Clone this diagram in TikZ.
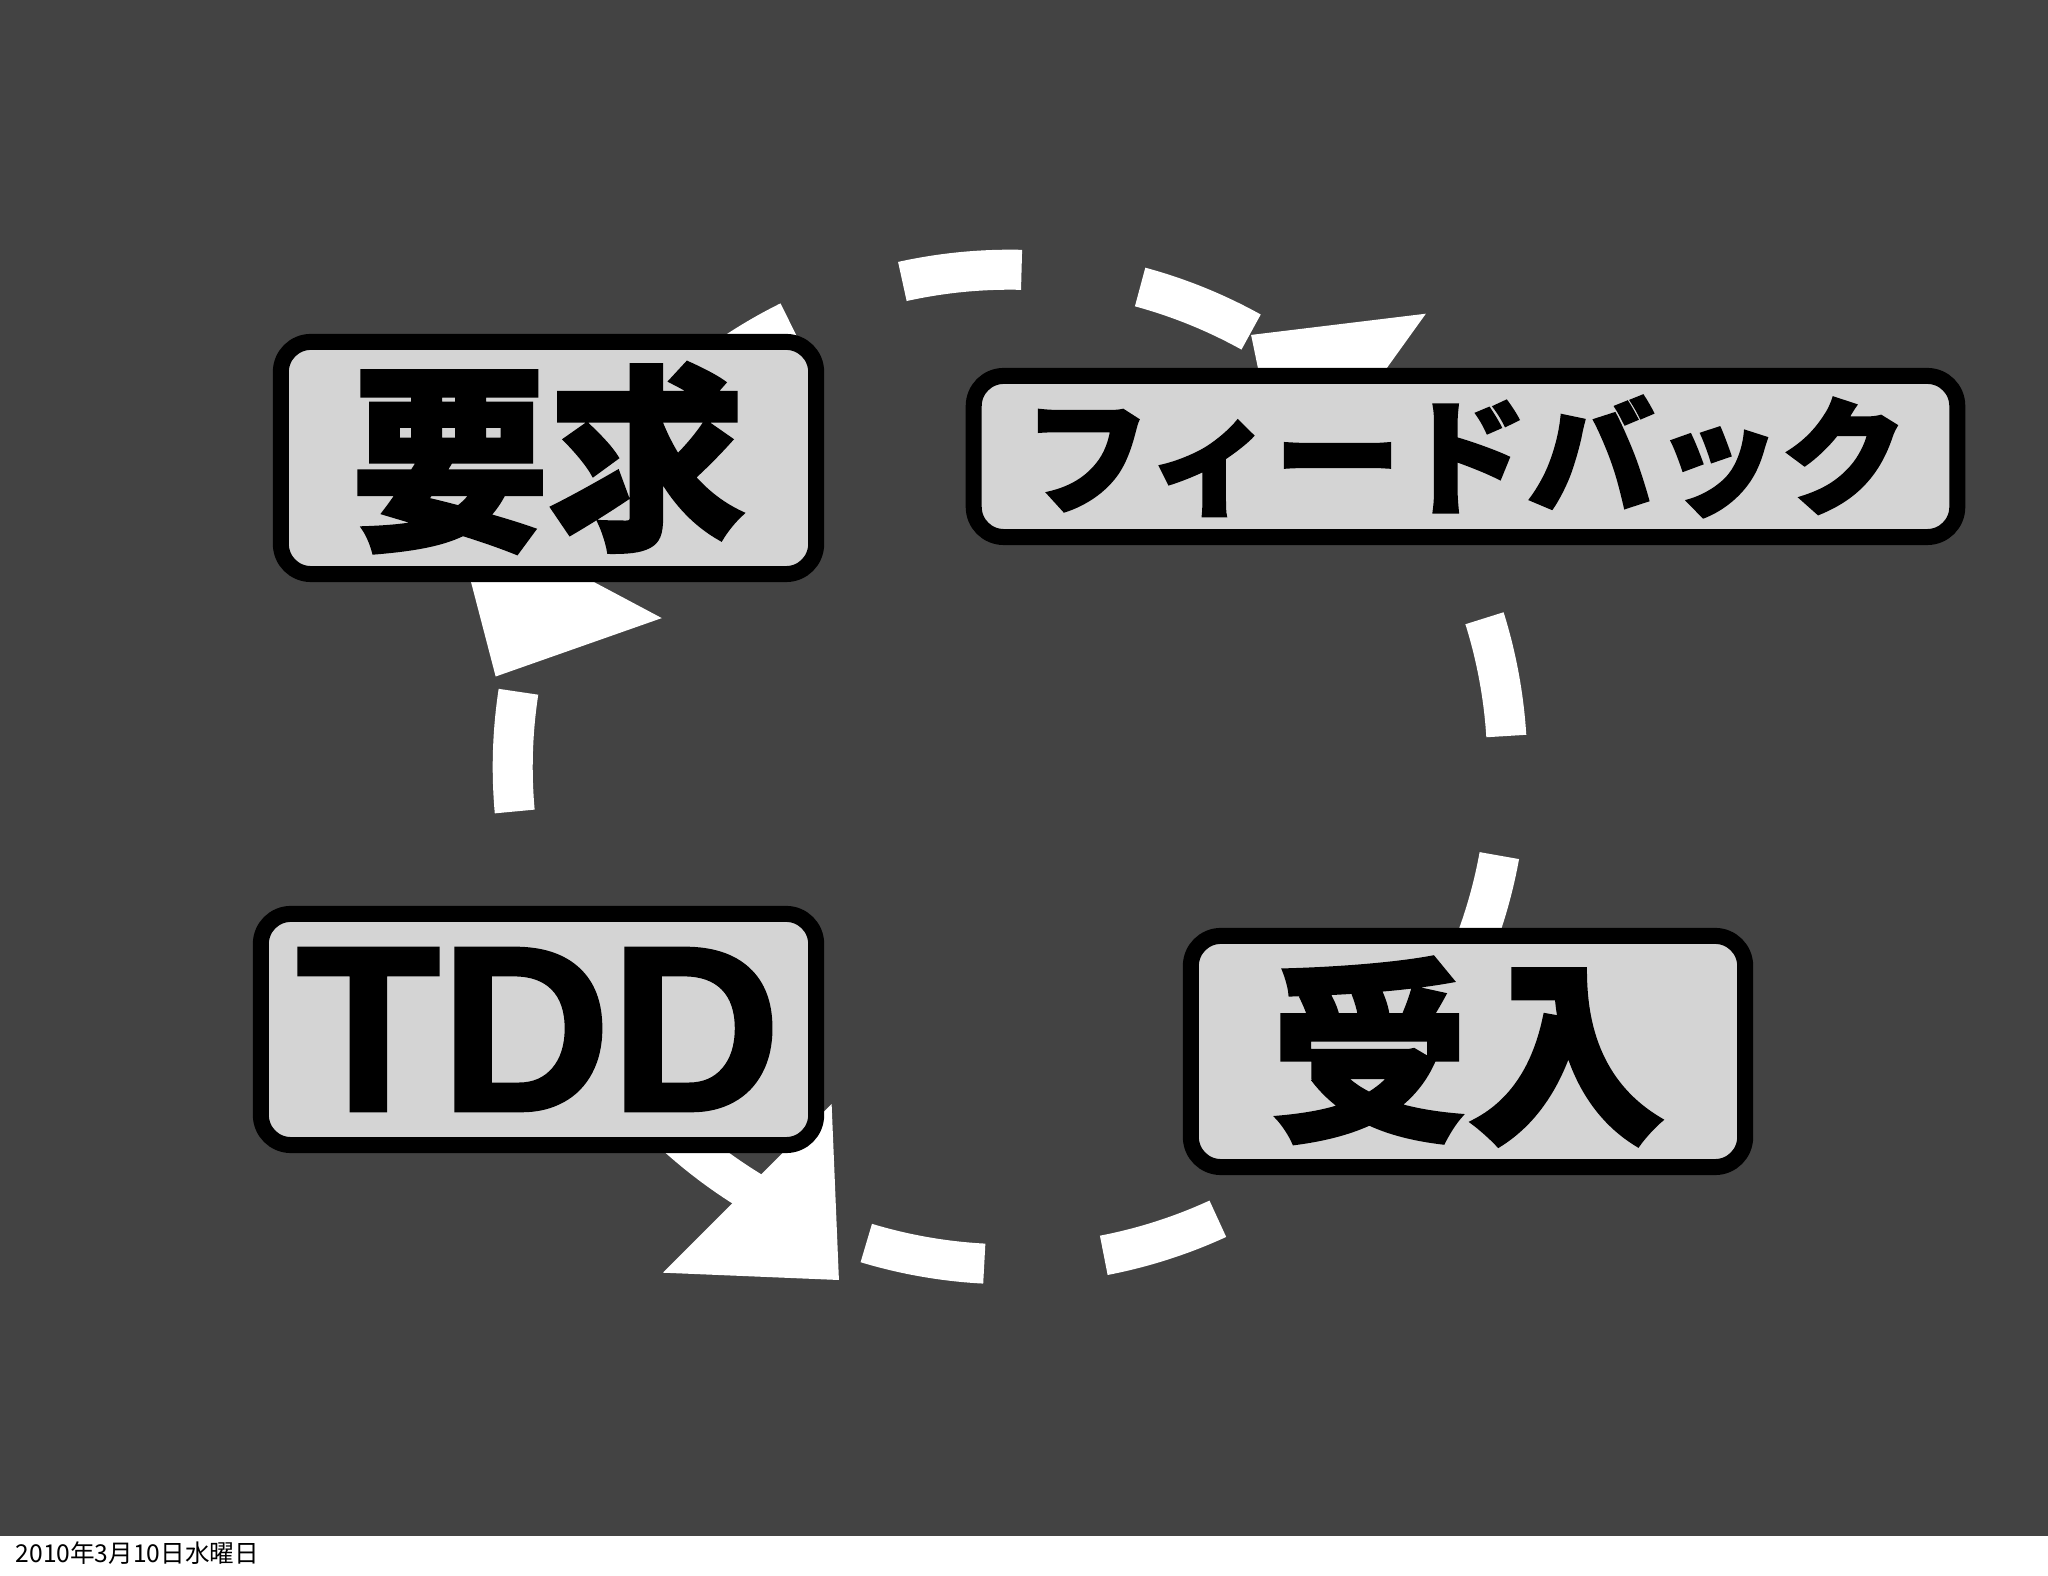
\documentclass[tikz,border=0pt]{standalone}
\usepackage{fontspec}
\usetikzlibrary{arrows.meta}
\newfontfamily\jpfont{Noto Sans CJK JP}
\newfontfamily\jpheavy{Noto Sans CJK JP}[FakeBold=2]
\newfontfamily\lafont{Liberation Sans}[FakeBold=1.5]
\definecolor{slate}{RGB}{67,67,67}
\definecolor{cardgray}{RGB}{212,212,212}

\begin{document}
\begin{tikzpicture}[
    x=0.01cm, y=0.01cm,
    every node/.style={align=center, inner sep=0pt},
    box/.style={draw=black, fill=cardgray, line width=0.16cm, rounded corners=0.3cm},
    bigjp/.style={font=\jpheavy\bfseries\fontsize{56pt}{56pt}\selectfont},
    midjp/.style={font=\jpheavy\bfseries\fontsize{36pt}{36pt}\selectfont},
    biglatin/.style={font=\lafont\bfseries\fontsize{67pt}{67pt}\selectfont},
    flow/.style={draw=white, line width=0.4cm, dash pattern=on 1.2cm off 1.2cm,
        -{Triangle[length=1.3cm, width=2.3cm]}}
]
    \useasboundingbox (0,0) rectangle (2048,1576);
    \fill[white] (0,0) rectangle (2048,1576);
    \fill[slate] (0,40) rectangle (2048,1576);

    % Draw connections
    \coordinate (hub) at (1010,809);
    \coordinate (fbexit) at ([shift={(61:4.97cm)}]hub);
    \coordinate (reqexit) at ([shift={(171.3:4.97cm)}]hub);
    \coordinate (tddexit) at ([shift={(253.2:4.97cm)}]hub);
    \coordinate (accexit) at ([shift={(335.9:4.97cm)}]hub);

    \draw[flow] (fbexit) arc[start angle=61, end angle=155, radius=4.97cm] -- ++(242:1.36cm);
    \draw[flow] (reqexit) arc[start angle=171.3, end angle=238.4, radius=4.97cm] -- ++(-45:1.27cm);
    \draw[flow] (tddexit) arc[start angle=253.2, end angle=321, radius=4.97cm] -- ++(42:1.3cm);
    \draw[flow] (accexit) arc[start angle=335.9, end angle=405.6, radius=4.97cm] -- ++(144.3:1.32cm);

    % Draw nodes
    \node[box, bigjp, minimum width=5.35cm, minimum height=2.32cm] (req) at (548.5,1118) {要求};
    \node[box, midjp, minimum width=9.83cm, minimum height=1.61cm] (fb) at (1465.5,1119.5) {フィードバック};
    \node[box, biglatin, minimum width=5.55cm, minimum height=2.31cm] (tdd) at (538.5,546.5) {TDD};
    \node[box, bigjp, minimum width=5.54cm, minimum height=2.31cm] (acc) at (1468,524.5) {受入};

    \node[anchor=base west, font=\jpfont\fontsize{7pt}{9pt}\selectfont] (date) at (15,13) {2010年3月10日水曜日};
\end{tikzpicture}
\end{document}
